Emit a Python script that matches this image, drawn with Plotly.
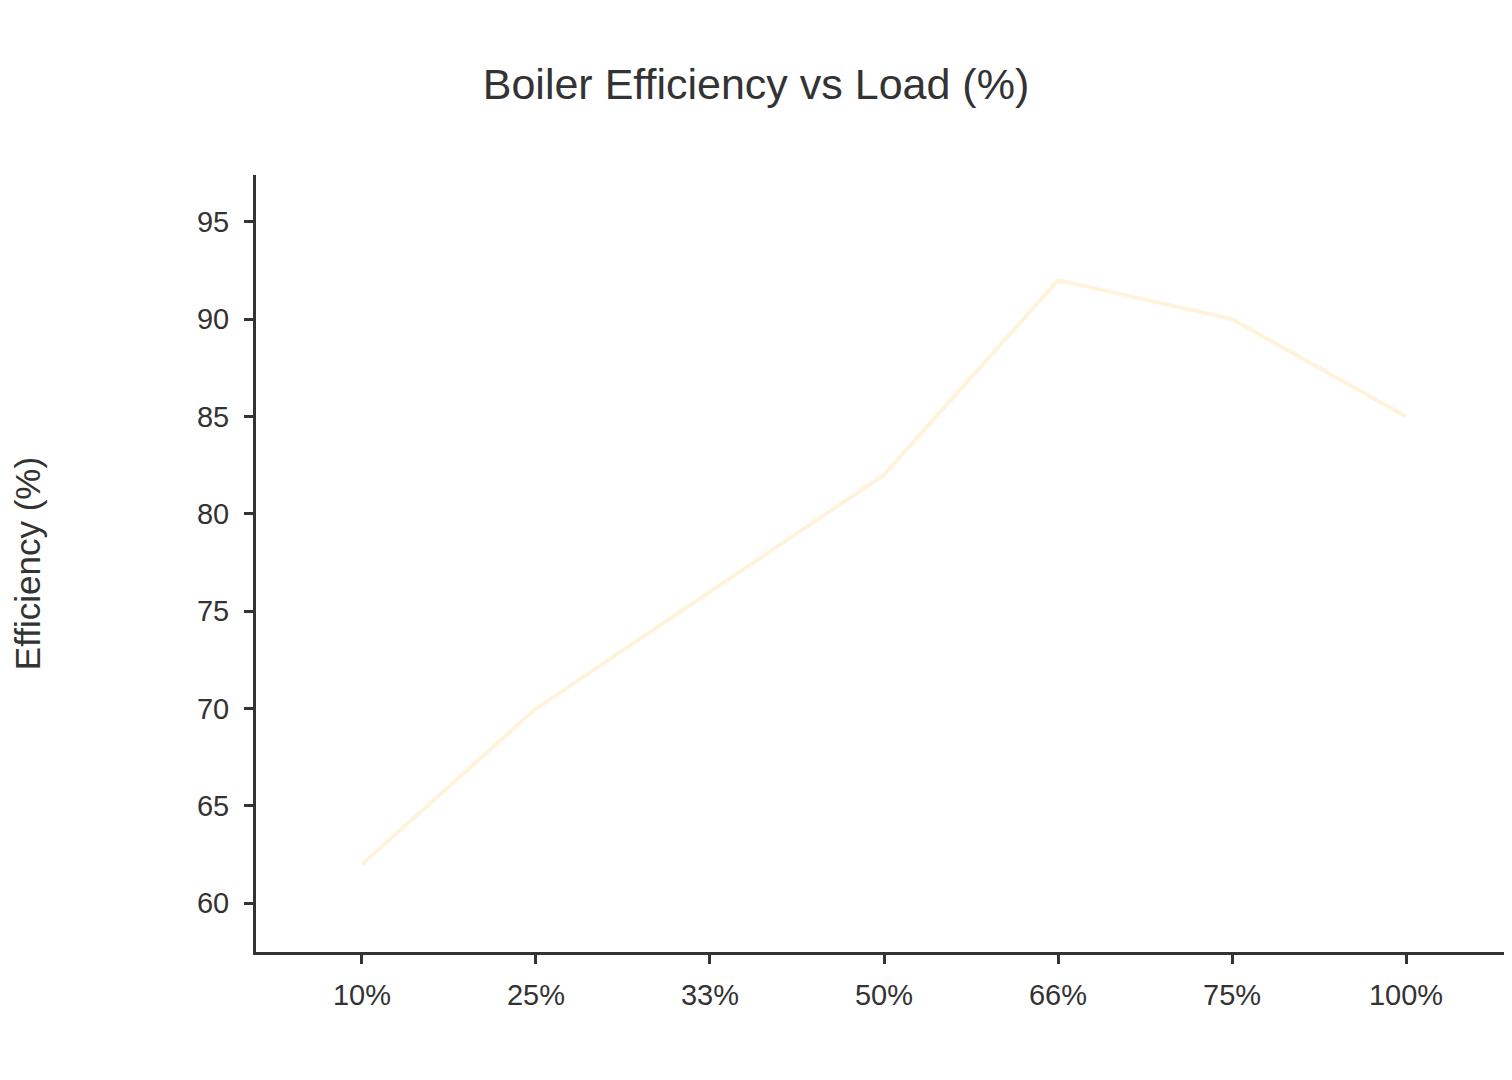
import plotly.graph_objects as go

loads = ["10%", "25%", "33%", "50%", "66%", "75%", "100%"]
efficiency = [62, 70, 76, 82, 92, 90, 85]
y_ticks = [60, 65, 70, 75, 80, 85, 90, 95]

text_color = "#333333"
axis_color = "#333333"
font_family = "Liberation Sans, Arial, Helvetica, sans-serif"

fig = go.Figure()
fig.add_trace(go.Scatter(
    x=loads,
    y=efficiency,
    mode="lines",
    line=dict(color="#FFF3DC", width=4),
    showlegend=False,
))

fig.update_layout(
    width=1512,
    height=1080,
    paper_bgcolor="white",
    plot_bgcolor="white",
    margin=dict(l=248, r=0, t=167, b=136, autoexpand=False),
    font=dict(family=font_family, color=text_color, size=29),
    title=dict(
        text="Boiler Efficiency vs Load (%)",
        x=0.5 - 8 / 1512, xanchor="center",
        y=1 - 76 / 1080, yanchor="middle",
        yref="container",
        font=dict(size=43, color=text_color, family=font_family),
    ),
)

fig.update_xaxes(
    type="category",
    range=[-0.609, 6.655],
    showgrid=False,
    zeroline=False,
    showline=True,
    linecolor=axis_color,
    linewidth=3,
    ticks="outside",
    ticklen=9,
    tickwidth=3,
    tickcolor=axis_color,
    tickfont=dict(size=29, color=text_color),
    ticklabelstandoff=6,
)

fig.update_yaxes(
    range=[57.5, 97.4],
    tickvals=y_ticks,
    showgrid=False,
    zeroline=False,
    showline=True,
    linecolor=axis_color,
    linewidth=3,
    ticks="outside",
    ticklen=9,
    tickwidth=3,
    tickcolor=axis_color,
    tickfont=dict(size=29, color=text_color),
    ticklabelstandoff=9,
    title=dict(text="Efficiency (%)", font=dict(size=35, color=text_color), standoff=147),
)

fig.write_html("out.html")
